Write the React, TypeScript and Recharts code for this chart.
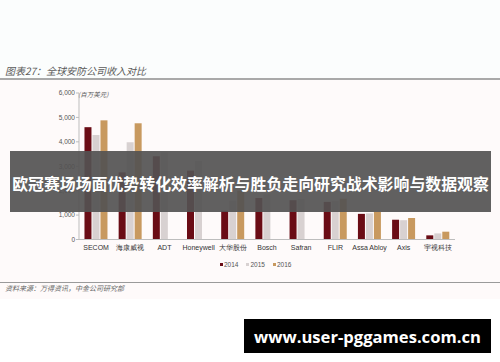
import React from 'react';
import { BarChart, Bar, XAxis, YAxis, Legend } from 'recharts';

const categories = ['SECOM', '海康威视', 'ADT', 'Honeywell', '大华股份', 'Bosch', 'Safran', 'FLIR', 'Assa Abloy', 'Axis', '宇视科技'];
const s2014 = [4600, 2750, 3410, 2820, 1180, 1700, 1610, 1540, 1050, 810, 170];
const s2015 = [4280, 3980, 3570, 3220, 1590, 1850, 1660, 1570, 1070, 790, 250];
const s2016: (number | null)[] = [4880, 4760, null, null, 2000, null, null, 1670, 1130, 880, 320];
const yTicks = [0, 1000, 2000, 3000, 4000, 5000, 6000];
const seriesNames = ['2014', '2015', '2016'];
const colors = ['#6a0c15', '#d8d1d1', '#c8995f'];

const data = categories.map((c, i) => ({ name: c, y2014: s2014[i], y2015: s2015[i], y2016: s2016[i] }));

const fmt = (v: number) => v.toLocaleString('en-US');

const LegendContent = () => (
  <div style={{ display: 'flex', alignItems: 'center', fontFamily: '"Liberation Sans", Arial, sans-serif', fontSize: 6.5, color: '#555', lineHeight: '9px', whiteSpace: 'nowrap' }}>
    {seriesNames.map((n, i) => (
      <span key={n} style={{ display: 'inline-flex', alignItems: 'center', marginRight: 8 }}>
        <span style={{ display: 'inline-block', width: 3, height: 3, background: colors[i], marginRight: 1 }} />
        {n}
      </span>
    ))}
  </div>
);

export default function App() {
  return (
    <div style={{ position: 'absolute', left: 0, top: 0, width: 500, height: 362, background: '#fff', overflow: 'hidden' }}>
      <div style={{ position: 'absolute', left: 0, top: 0, width: 500, height: 78, background: '#fbfdfd' }} />
      <div style={{ position: 'absolute', left: 0, top: 79, width: 500, height: 220, background: '#fefafa' }} />
      <div style={{ position: 'absolute', left: 0, top: 78, width: 500, height: 1.5, background: '#a9a9a9' }} />
      <div style={{ position: 'absolute', left: 0, top: 281.5, width: 500, height: 1, background: '#9a9a9a' }} />
      <div style={{ position: 'absolute', left: 5, top: 64, fontFamily: '"Noto Sans CJK SC", sans-serif', fontStyle: 'italic', fontSize: 10, color: '#5a5a5a', whiteSpace: 'nowrap', lineHeight: '14px' }}>
        图表27：全球安防公司收入对比
      </div>
      <div style={{ position: 'absolute', left: 78, top: 89, fontFamily: '"Noto Sans CJK SC", sans-serif', fontStyle: 'italic', fontSize: 6.5, color: '#555', whiteSpace: 'nowrap', lineHeight: '10px' }}>
        (百万美元)
      </div>
      <div style={{ position: 'absolute', left: 0, top: 0 }}>
        <BarChart width={500} height={362} data={data} margin={{ top: 93, right: 45, left: 0, bottom: 102.5 }} barGap={1} barCategoryGap="16%">
          <YAxis
            width={79}
            domain={[0, 6000]}
            ticks={yTicks}
            tickFormatter={fmt}
            tick={{ fontSize: 6.5, fill: '#555', fontFamily: '"Liberation Sans", Arial, sans-serif' }}
            axisLine={{ stroke: '#bdbdbd' }}
            tickLine={{ stroke: '#bdbdbd' }}
            tickSize={3}
            tickMargin={1}
            interval={0}
          />
          <XAxis
            dataKey="name"
            height={20}
            interval={0}
            tick={{ fontSize: 7, fill: '#333', fontFamily: '"Liberation Sans", Arial, sans-serif' }}
            axisLine={{ stroke: '#bdbdbd' }}
            tickLine={false}
            tickSize={3}
            tickMargin={3}
          />
          <Legend verticalAlign="middle" align="center" content={<LegendContent />} wrapperStyle={{ top: 260, left: 220, width: 'auto' }} />
          <Bar dataKey="y2014" name="2014" fill={colors[0]} isAnimationActive={false} />
          <Bar dataKey="y2015" name="2015" fill={colors[1]} isAnimationActive={false} />
          <Bar dataKey="y2016" name="2016" fill={colors[2]} isAnimationActive={false} />
        </BarChart>
      </div>
      <div style={{ position: 'absolute', left: 5, top: 283, fontFamily: '"Noto Sans CJK SC", sans-serif', fontStyle: 'italic', fontSize: 7, color: '#666', whiteSpace: 'nowrap', lineHeight: '10px' }}>
        资料来源：万得资讯，中金公司研究部
      </div>
      <div style={{ position: 'absolute', left: 10, top: 151, width: 481, height: 61, background: 'rgba(84,82,83,0.92)', display: 'flex', alignItems: 'center', justifyContent: 'center' }}>
        <span style={{ fontFamily: '"Noto Sans CJK SC", sans-serif', fontWeight: 700, fontSize: 15.9, color: '#fff', whiteSpace: 'nowrap', position: 'relative', top: 2 }}>
          欧冠赛场场面优势转化效率解析与胜负走向研究战术影响与数据观察
        </span>
      </div>
      <div style={{ position: 'absolute', left: 244, top: 319, width: 247, height: 34, background: '#000', display: 'flex', alignItems: 'center', justifyContent: 'center' }}>
        <span style={{ fontFamily: '"Open Sans", sans-serif', fontWeight: 700, fontSize: 16.6, color: '#fff', whiteSpace: 'nowrap' }}>
          www.user-pggames.com.cn
        </span>
      </div>
    </div>
  );
}
